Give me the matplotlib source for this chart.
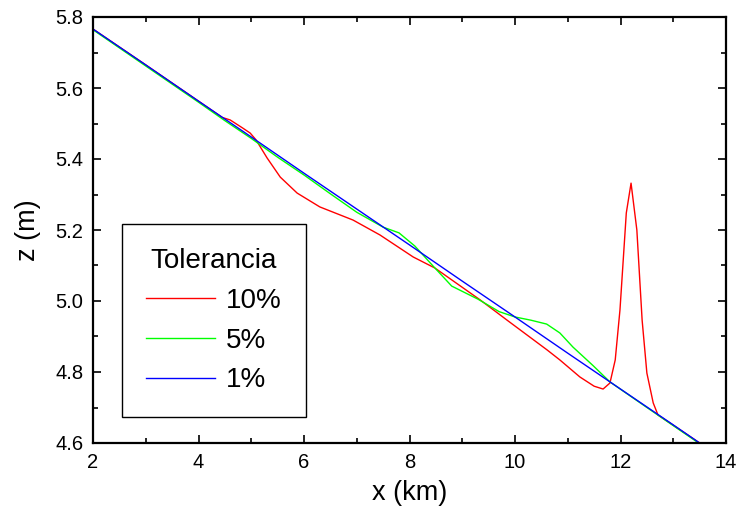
import matplotlib
matplotlib.use('Agg')
import matplotlib.pyplot as plt
from matplotlib.ticker import MultipleLocator

plt.rcParams['font.family'] = ['Liberation Sans', 'DejaVu Sans']

# 1% (azul)
x_1 = [2, 3, 4, 5, 6, 7, 8, 9, 10, 11, 12, 13, 13.5]
z_1 = [5.766, 5.665, 5.563, 5.462, 5.360, 5.259, 5.158, 5.056, 4.955, 4.853, 4.752, 4.651, 4.600]

# 5% (verde)
x_5 = [2, 3, 4, 4.5, 5, 5.5, 6, 6.5, 7, 7.5, 7.8, 8.1, 8.45, 8.8, 9.3, 9.7, 10.0, 10.3,
       10.6, 10.85, 11.1, 11.48, 11.8, 12.5, 13, 13.5]
z_5 = [5.764, 5.662, 5.560, 5.508, 5.458, 5.405, 5.355, 5.302, 5.250, 5.208, 5.192, 5.155,
       5.098, 5.042, 5.005, 4.970, 4.955, 4.946, 4.935, 4.910, 4.870, 4.818, 4.772, 4.700,
       4.649, 4.598]

# 10% (rojo)
x_10 = [2, 3, 4, 4.45, 4.6, 4.84, 4.98, 5.09, 5.3, 5.55, 5.87, 6.3, 6.93, 7.44, 8.07, 8.48,
        9.34, 9.85, 10.61, 10.85, 11.23, 11.5, 11.67, 11.8, 11.9, 11.99, 12.11, 12.2, 12.31,
        12.41, 12.5, 12.62, 12.71, 13.0, 13.5]
z_10 = [5.766, 5.665, 5.563, 5.517, 5.510, 5.487, 5.473, 5.454, 5.403, 5.349, 5.304, 5.265,
        5.228, 5.186, 5.124, 5.093, 5.003, 4.946, 4.862, 4.834, 4.786, 4.760, 4.752, 4.769,
        4.834, 4.975, 5.248, 5.332, 5.200, 4.946, 4.797, 4.713, 4.679, 4.650, 4.600]

fig = plt.figure(figsize=(7.39, 5.21), dpi=100)
ax = fig.add_axes([93/739, 1 - 443/521, 633/739, 426/521])

ax.plot(x_10, z_10, color='#ff0000', lw=1.0, label='10%')
ax.plot(x_5, z_5, color='#00ff00', lw=1.0, label='5%')
ax.plot(x_1, z_1, color='#0000ff', lw=1.0, label='1%')

ax.set_xlim(2, 14)
ax.set_ylim(4.6, 5.8)
ax.xaxis.set_major_locator(MultipleLocator(2))
ax.xaxis.set_minor_locator(MultipleLocator(1))
ax.yaxis.set_major_locator(MultipleLocator(0.2))
ax.yaxis.set_minor_locator(MultipleLocator(0.1))
ax.yaxis.set_major_formatter(matplotlib.ticker.FormatStrFormatter('%.1f'))

ax.tick_params(which='both', direction='in', top=True, right=True, width=1.2, labelsize=14.5, pad=7)
ax.tick_params(which='major', length=6)
ax.tick_params(which='minor', length=3.5)
for s in ax.spines.values():
    s.set_linewidth(1.6)

ax.set_xlabel('x (km)', fontsize=19.5, labelpad=6)
ax.set_ylabel('z (m)', fontsize=19.5, labelpad=10)

leg = ax.legend(title='Tolerancia', loc='lower left', bbox_to_anchor=(0.0458, 0.061),
                borderaxespad=0, fontsize=20, title_fontsize=20, handlelength=2.5,
                handletextpad=0.4, labelspacing=0.5, borderpad=0.85, fancybox=False,
                framealpha=1, edgecolor='black')
leg.get_frame().set_linewidth(1.0)

fig.savefig('out.png', dpi=100)
